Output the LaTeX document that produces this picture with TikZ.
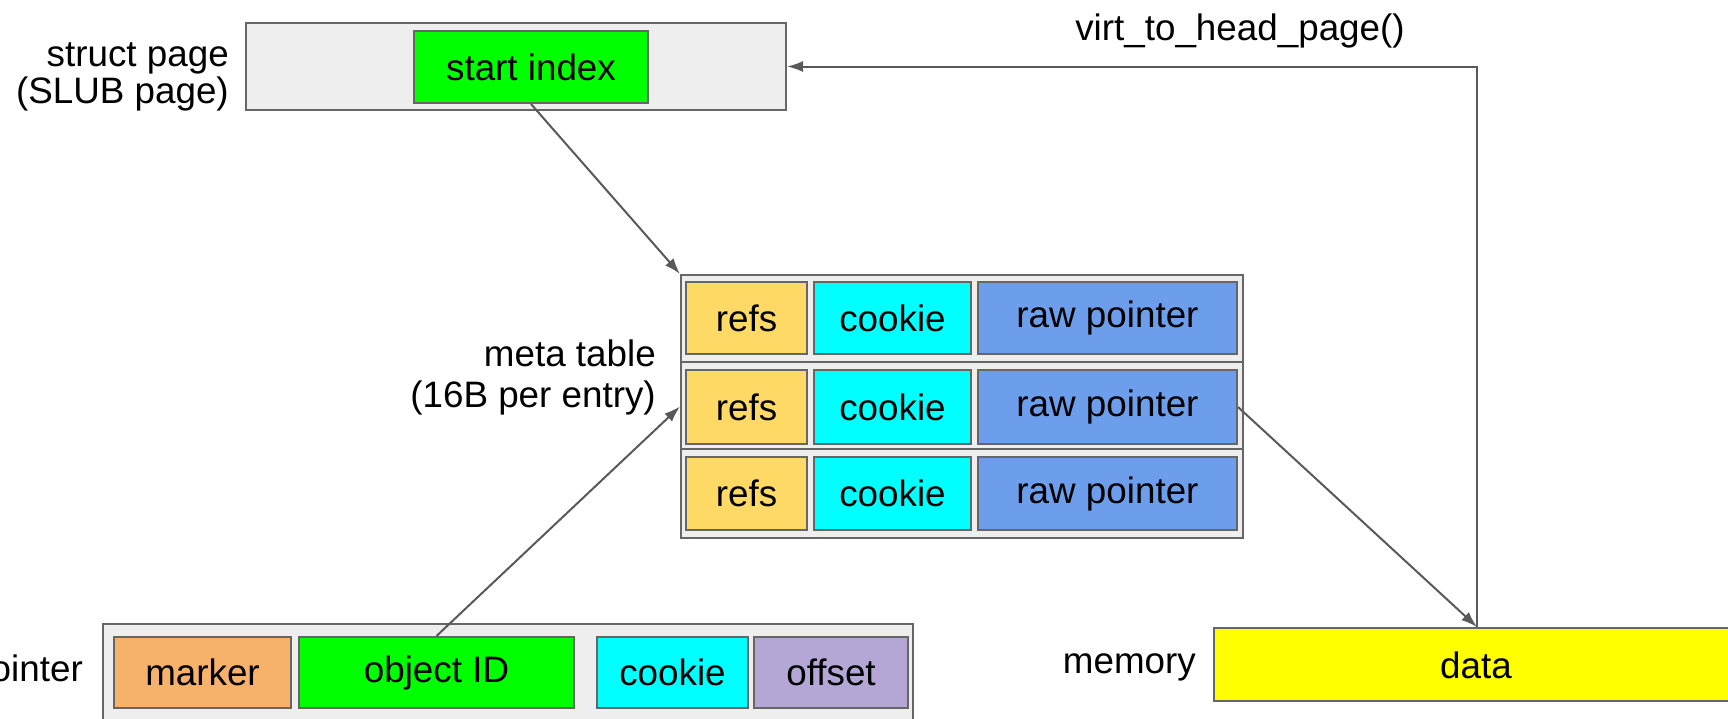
\documentclass[tikz,border=0pt]{standalone}
\usepackage{fontspec}
\setmainfont{Liberation Sans}
\usetikzlibrary{arrows.meta}
\definecolor{edge}{HTML}{666666}
\definecolor{wire}{HTML}{595959}
\definecolor{panel}{HTML}{EEEEEE}
\definecolor{cgreen}{HTML}{00FF00}
\definecolor{crefs}{HTML}{FFD966}
\definecolor{ccookie}{HTML}{00FFFF}
\definecolor{craw}{HTML}{6D9EEB}
\definecolor{cmarker}{HTML}{F6B26B}
\definecolor{coffset}{HTML}{B4A7D6}
\definecolor{cdata}{HTML}{FFFF00}
\begin{document}
\begin{tikzpicture}[x=1pt,y=-1pt,
  font=\fontsize{36.8}{39}\selectfont,
  panelbox/.style={draw=edge, fill=panel, line width=2pt, inner sep=0pt, anchor=north west},
  cell/.style={draw=edge, line width=2pt, inner sep=0pt, anchor=north west},
  lbl/.style={align=right, anchor=east, inner sep=0pt},
  arr/.style={draw=wire, line width=2pt, -{Latex[length=16pt,width=11pt]}}]
\useasboundingbox (0,0) rectangle (1728,718);
\clip (0,0) rectangle (1728,718);

% struct page
\node[panelbox, minimum width=540pt, minimum height=87pt] (spage) at (245,22) {};
\node[cell, fill=cgreen, minimum width=234pt, minimum height=72pt] (startidx) at (413,30) {start index};
\node[lbl, text depth=0pt] (spagelbl) at (229,73) {struct page\\[-2pt](SLUB page)};

% meta table
\node[panelbox, minimum width=562pt, minimum height=263pt] (meta) at (680,274) {};
\draw[edge, line width=2pt] (680,361.5) -- (1242,361.5) (680,449) -- (1242,449);
\node[cell, fill=crefs, minimum width=121pt, minimum height=72pt] (refs1) at (685,281) {refs};
\node[cell, fill=ccookie, minimum width=157pt, minimum height=72pt] (cookie1) at (813,281) {cookie};
\node[cell, fill=craw, minimum width=259pt, minimum height=72pt] (raw1) at (977,281) {raw pointer};
\node[cell, fill=crefs, minimum width=121pt, minimum height=74pt] (refs2) at (685,369) {refs};
\node[cell, fill=ccookie, minimum width=157pt, minimum height=74pt] (cookie2) at (813,369) {cookie};
\node[cell, fill=craw, minimum width=259pt, minimum height=74pt] (raw2) at (977,369) {raw pointer};
\node[cell, fill=crefs, minimum width=121pt, minimum height=73pt] (refs3) at (685,456) {refs};
\node[cell, fill=ccookie, minimum width=157pt, minimum height=73pt] (cookie3) at (813,456) {cookie};
\node[cell, fill=craw, minimum width=259pt, minimum height=73pt] (raw3) at (977,456) {raw pointer};
\node[lbl, text depth=0pt] (metalbl) at (656,374) {meta table\\[2pt](16B per entry)};

% pointer
\node[panelbox, minimum width=810pt, minimum height=120pt] (ptr) at (102,623) {};
\node[cell, fill=cmarker, minimum width=177pt, minimum height=71pt] (marker) at (113,636) {marker};
\node[cell, fill=cgreen, minimum width=275pt, minimum height=71pt] (objid) at (298,636) {object ID};
\node[cell, fill=ccookie, minimum width=151pt, minimum height=71pt] (pcookie) at (596,636) {cookie};
\node[cell, fill=coffset, minimum width=154pt, minimum height=71pt] (offset) at (753,636) {offset};
\node[lbl] (ptrlbl) at (83,672) {pointer};

% memory
\node[cell, fill=cdata, minimum width=526pt, minimum height=73pt] (data) at (1213,627) {};
\node (datatxt) at (1476,665) {data};
\node[lbl] (memlbl) at (1196,667) {memory};

\node (virt) at (1240,31) {virt\_to\_head\_page()};

% connectors
\draw[arr] (startidx.south) -- (meta.north west);
\draw[arr] (objid.north) -- (meta.west);
\draw[arr] (raw2.east) -- (data.north);
\draw[arr] (data.north) |- (spage.east);
\end{tikzpicture}
\end{document}
